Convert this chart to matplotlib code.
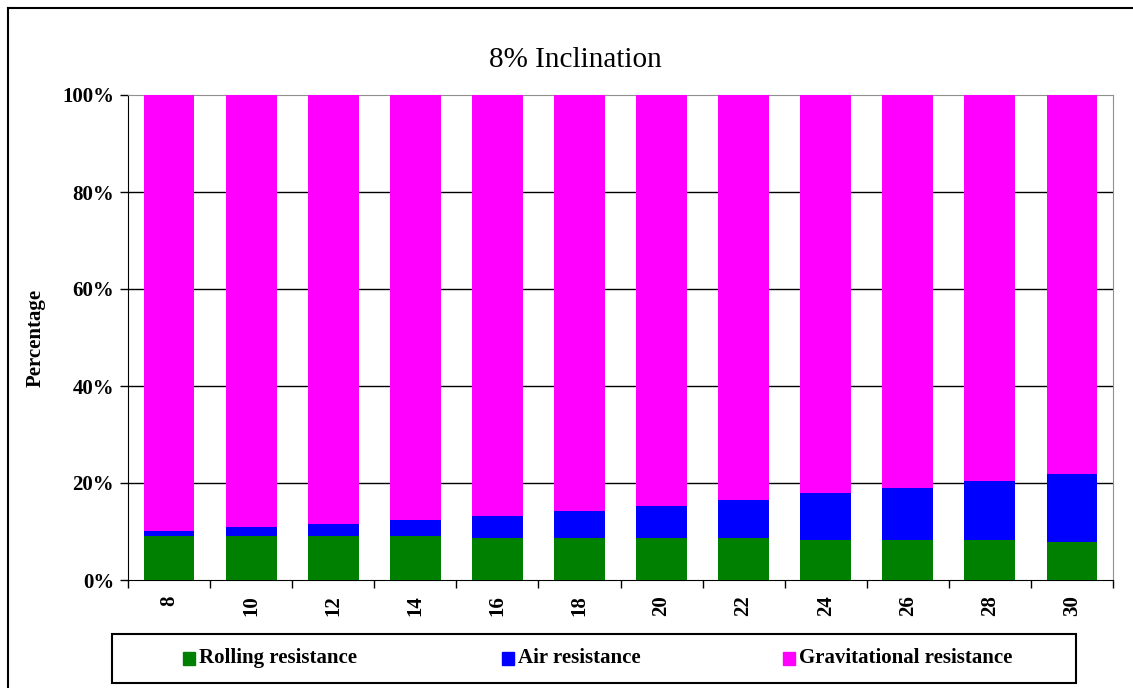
import matplotlib.pyplot as plt
from matplotlib.patches import Rectangle
from matplotlib.lines import Line2D
import numpy as np

# speeds on the x axis
categories = ["8", "10", "12", "14", "16", "18", "20", "22", "24", "26", "28", "30"]

# share of total resistance (%)
rolling = [9.0, 9.0, 9.0, 9.0, 8.6, 8.6, 8.6, 8.6, 8.3, 8.3, 8.3, 7.9]
air = [1.1, 1.9, 2.6, 3.4, 4.5, 5.6, 6.7, 7.8, 9.6, 10.7, 12.1, 14.0]
gravitational = [100 - r - a for r, a in zip(rolling, air)]

y_ticks = [0, 20, 40, 60, 80, 100]
y_tick_labels = ["0%", "20%", "40%", "60%", "80%", "100%"]

W, H = 1133, 688
serif = ["Liberation Serif", "DejaVu Serif"]
fs = 15

fig = plt.figure(figsize=(W / 100, H / 100), dpi=100)
ax = fig.add_axes([128 / W, 1 - 580 / H, (1113 - 128) / W, (580 - 95) / H])

x = np.arange(len(categories))
width = 0.62
ax.bar(x, rolling, width, color="#008000", label="Rolling resistance", zorder=3)
ax.bar(x, air, width, bottom=rolling, color="#0000ff", label="Air resistance", zorder=3)
bottom2 = [r + a for r, a in zip(rolling, air)]
ax.bar(x, gravitational, width, bottom=bottom2, color="#ff00ff",
       label="Gravitational resistance", zorder=3)

ax.set_xlim(-0.5, len(categories) - 0.5)
ax.set_ylim(0, 100)

# gridlines
for v in y_ticks[1:-1]:
    ax.axhline(v, color="black", lw=1, zorder=1)

ax.set_yticks(y_ticks)
ax.set_yticklabels(y_tick_labels, fontfamily=serif, fontweight="bold", fontsize=fs)
ax.tick_params(axis="y", direction="out", length=6, width=1, pad=4)

# x ticks at category boundaries, labels at centres
ax.set_xticks(np.arange(len(categories) + 1) - 0.5)
ax.set_xticklabels([])
ax.tick_params(axis="x", direction="out", length=6, width=1)
for i, c in enumerate(categories):
    ax.text(i, -3.2, c, rotation=90, ha="center", va="top", fontfamily=serif,
            fontweight="bold", fontsize=fs, transform=ax.transData)

ax.spines["left"].set_color("black")
ax.spines["bottom"].set_color("black")
ax.spines["top"].set_color("#909090")
ax.spines["right"].set_color("#909090")

ax.set_ylabel("Percentage", fontfamily=serif, fontweight="bold", fontsize=fs)
ax.yaxis.set_label_coords(-82 / (1113 - 128), 0.5)

fig.text(575 / W, 1 - 60 / H, "8% Inclination", ha="center", va="center",
         fontfamily=serif, fontsize=21)

# legend frame and entries
fig.patches.append(Rectangle((112 / W, 1 - 683 / H), (1076 - 112) / W, (683 - 634) / H,
                             transform=fig.transFigure, fill=False, ec="black", lw=1.5))
legend_items = [("#008000", "Rolling resistance", 183),
                ("#0000ff", "Air resistance", 502),
                ("#ff00ff", "Gravitational resistance", 783)]
for col, txt, px in legend_items:
    fig.patches.append(Rectangle((px / W, 1 - 665 / H), 12 / W, 13 / H,
                                 transform=fig.transFigure, color=col))
    fig.text((px + 16) / W, 1 - 658 / H, txt, ha="left", va="center",
             fontfamily=serif, fontweight="bold", fontsize=fs)

# outer chart border (left and top visible)
fig.lines.append(Line2D([8 / W, 8 / W], [0, 1 - 8 / H], transform=fig.transFigure,
                        color="black", lw=1.5))
fig.lines.append(Line2D([8 / W, 1], [1 - 8 / H, 1 - 8 / H], transform=fig.transFigure,
                        color="black", lw=1.5))

fig.savefig("out.png", dpi=100)
